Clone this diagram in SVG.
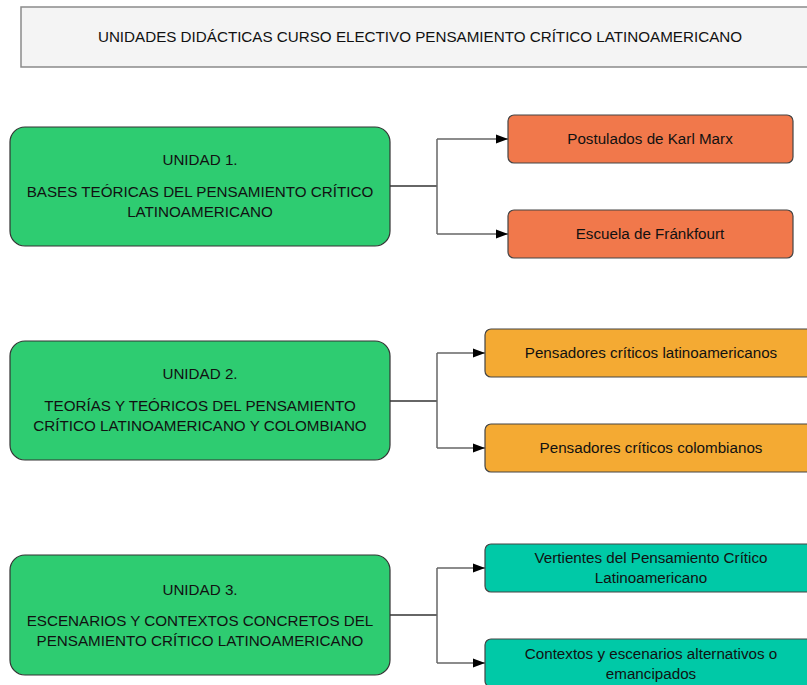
<svg xmlns="http://www.w3.org/2000/svg" width="807" height="685" viewBox="0 0 807 685">
<defs>
<marker id="arr" viewBox="0 0 12 10" refX="12" refY="5" markerWidth="12" markerHeight="10" markerUnits="userSpaceOnUse" orient="auto">
<path d="M0,0.5 L12,5 L0,9.5 Z" fill="#000"/>
</marker>
<style>
text{font-family:"Liberation Sans",Arial,sans-serif;font-size:15.2px;fill:#111;text-anchor:middle}
.title{fill:#f4f4f4;stroke:#8a8a8a;stroke-width:1.5}
.unit{fill:#2ecc71;stroke:#333;stroke-width:1.2}
.c1{fill:#f1784b;stroke:#444;stroke-width:1.2}
.c2{fill:#f4aa33;stroke:#444;stroke-width:1.2}
.c3{fill:#00c9a7;stroke:#444;stroke-width:1.2}
.ln{fill:none;stroke:#666;stroke-width:1.5}
.trunk{fill:none;stroke:#333;stroke-width:1.5}
</style>
</defs>
<g id="title">
<rect class="title" x="21" y="7" width="810" height="60"/>
<text x="420" y="42">UNIDADES DIDÁCTICAS CURSO ELECTIVO PENSAMIENTO CRÍTICO LATINOAMERICANO</text>
</g>
<g id="connectors">
<path class="trunk" d="M390,186 H437"/>
<path class="ln" d="M437,139 V234"/>
<path class="ln" d="M437,139 H508" marker-end="url(#arr)"/>
<path class="ln" d="M437,234 H508" marker-end="url(#arr)"/>
<path class="trunk" d="M390,401 H437"/>
<path class="ln" d="M437,353 V448"/>
<path class="ln" d="M437,353 H485" marker-end="url(#arr)"/>
<path class="ln" d="M437,448 H485" marker-end="url(#arr)"/>
<path class="trunk" d="M390,615 H437"/>
<path class="ln" d="M437,568 V663"/>
<path class="ln" d="M437,568 H485" marker-end="url(#arr)"/>
<path class="ln" d="M437,663 H485" marker-end="url(#arr)"/>
</g>
<g id="unit1">
<rect class="unit" x="10" y="127" width="380" height="119" rx="15"/>
<text x="200" y="165">UNIDAD 1.</text>
<text x="200" y="197">BASES TEÓRICAS DEL PENSAMIENTO CRÍTICO</text>
<text x="200" y="217">LATINOAMERICANO</text>
</g>
<g id="marx">
<rect class="c1" x="508" y="115" width="285" height="48" rx="6"/>
<text x="650" y="144">Postulados de Karl Marx</text>
</g>
<g id="frankfurt">
<rect class="c1" x="508" y="210" width="285" height="48" rx="6"/>
<text x="650" y="239">Escuela de Fránkfourt</text>
</g>
<g id="unit2">
<rect class="unit" x="10" y="341" width="380" height="119" rx="15"/>
<text x="200" y="379">UNIDAD 2.</text>
<text x="200" y="411">TEORÍAS Y TEÓRICOS DEL PENSAMIENTO</text>
<text x="200" y="431">CRÍTICO LATINOAMERICANO Y COLOMBIANO</text>
</g>
<g id="latinos">
<rect class="c2" x="485" y="329" width="332" height="48" rx="6"/>
<text x="651" y="358">Pensadores críticos latinoamericanos</text>
</g>
<g id="colombianos">
<rect class="c2" x="485" y="424" width="332" height="48" rx="6"/>
<text x="651" y="453">Pensadores críticos colombianos</text>
</g>
<g id="unit3">
<rect class="unit" x="10" y="555" width="380" height="120" rx="15"/>
<text x="200" y="595">UNIDAD 3.</text>
<text x="200" y="626">ESCENARIOS Y CONTEXTOS CONCRETOS DEL</text>
<text x="200" y="646">PENSAMIENTO CRÍTICO LATINOAMERICANO</text>
</g>
<g id="vertientes">
<rect class="c3" x="485" y="544" width="332" height="48" rx="6"/>
<text x="651" y="563">Vertientes del Pensamiento Crítico</text>
<text x="651" y="583">Latinoamericano</text>
</g>
<g id="contextos">
<rect class="c3" x="485" y="639" width="332" height="48" rx="6"/>
<text x="651" y="659">Contextos y escenarios alternativos o</text>
<text x="651" y="679">emancipados</text>
</g>
</svg>
